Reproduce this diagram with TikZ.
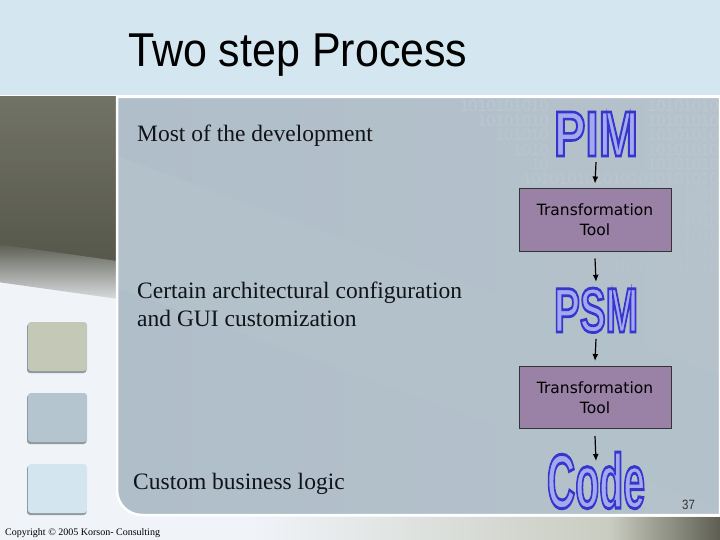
\documentclass[tikz,border=0pt]{standalone}
\usepackage{fontspec}
\setmainfont{Liberation Serif}
\newfontfamily\sansA{Liberation Sans}
\newfontfamily\sansD{DejaVu Sans}
\usetikzlibrary{arrows.meta}
\definecolor{leftbg}{HTML}{F0F4F9}
\definecolor{topband}{HTML}{D4E6EF}
\definecolor{olive1}{HTML}{77796B}
\definecolor{olive2}{HTML}{55564A}
\definecolor{hl}{HTML}{D2E3ED}
\definecolor{panelL}{HTML}{B0BECA}
\definecolor{panelM}{HTML}{B3C1CB}
\definecolor{panelR}{HTML}{B5C2CB}
\definecolor{banddark}{HTML}{909DA6}
\definecolor{stripmid}{HTML}{C9CCC0}
\definecolor{stripdark}{HTML}{5E5F52}
\definecolor{sqA}{HTML}{C4C8B6}
\definecolor{sqB}{HTML}{B4C5D0}
\definecolor{sqC}{HTML}{D3E6EF}
\definecolor{sqshadow}{HTML}{8E999E}
\definecolor{wafill}{HTML}{A4A8EE}
\definecolor{toolfill}{HTML}{9A82A6}
\definecolor{txt}{HTML}{101418}
% outlined word art: fill colour from the node, blue stroke of width #1
\newcommand\wordart[2]{\special{pdf:literal direct 2 Tr #1 w 0.21 0.21 0.80 RG}#2\special{pdf:literal direct 0 Tr}}
\newcommand\binpairs[1]{\foreach \k in {1,...,#1}{10}}
\tikzset{
  serif/.style={anchor=base west, inner sep=0, text=txt, font=\fontsize{23.5}{28}\selectfont},
  tbox/.style={draw=black!80, line width=1pt, fill=toolfill, minimum width=152pt, minimum height=62pt,
    align=center, inner sep=0, font=\sansD\fontsize{15.5}{20}\selectfont, text=black},
  arr/.style={-{Latex[length=7pt,width=6pt]}, line width=1.2pt, black},
  wa/.style={anchor=base, inner sep=0, text=wafill},
  square/.style={rounded corners=3pt},
  bin/.style={anchor=east, inner sep=0, text=white, font=\sansA\fontsize{16}{16}\selectfont}
}
\begin{document}
\begin{tikzpicture}[x=1pt,y=-1pt]
\useasboundingbox (0,0) rectangle (720,540);
% backgrounds
\fill[leftbg] (0,0) rectangle (720,540);
\fill[topband] (0,0) rectangle (720,95);
\fill[white] (0,95) rectangle (720,97);
\shade[left color=leftbg, right color=stripmid] (250,517) rectangle (612,540);
\shade[left color=stripmid, right color=stripdark] (610,517) rectangle (720,540);
% left column dark area
\begin{scope}
  \clip (0,97) rectangle (116,517);
  \begin{scope}[rotate around={-8:(0,245)}]
    \shade[top color=olive1, bottom color=olive2] (-30,60) rectangle (200,245);
    \shade[top color=olive2, bottom color=leftbg] (-30,244.5) rectangle (200,282);
  \end{scope}
  \begin{scope}[rotate around={-21:(0,105)}]
    \fill[hl] (-60,-150) rectangle (300,-14);
    \shade[top color=hl, bottom color=olive1] (-60,-14.5) rectangle (300,16);
  \end{scope}
\end{scope}
% main panel
\shade[left color=panelL, right color=panelR] (117,97) -- (720,97) -- (720,515) -- (142,515)
  .. controls (128,515) and (117,504) .. (117,490) -- cycle;
\begin{scope}
  \clip (117,97) -- (720,97) -- (720,515) -- (142,515)
    .. controls (128,515) and (117,504) .. (117,490) -- cycle;
  \begin{scope}[rotate around={-20:(117,222)}]
    \shade[top color=panelM, middle color=banddark, bottom color=panelM] (40,160) rectangle (900,284);
  \end{scope}
  % faint binary texture (kept clear of the word art and the boxes)
  \foreach \i/\n in {0/4,1/4,2/4,3/4,4/4,5/11,6/2,7/2,8/2,9/2,10/2,11/6,12/4,13/4}{
    \pgfmathsetmacro\op{0.1-0.006*\i}
    \node[bin, opacity=\op] (binr\i) at (719,106+14.5*\i) {\binpairs{\n}};
  }
  \foreach \i/\n in {0/5,1/4,2/3,3/2,4/1}{
    \pgfmathsetmacro\op{0.1-0.006*\i}
    \node[bin, opacity=\op] (binl\i) at (549,106+14.5*\i) {\binpairs{\n}};
  }
\end{scope}
\draw[white, line width=2.5pt] (117,97) -- (720,97) -- (720,515) -- (142,515)
  .. controls (128,515) and (117,504) .. (117,490) -- cycle;
% squares
\foreach \y/\c in {322/sqA, 393/sqB, 464/sqC}{
  \fill[sqshadow, square] (27,\y+1.5) rectangle (86.5,\y+51);
  \fill[\c, square] (28,\y) rectangle (87,\y+49);
}
% title
\node[anchor=base west, inner sep=0, xscale=0.905, font=\sansA\fontsize{47.5}{57}\selectfont, text=black]
  (title) at (128,67) {Two step Process};
% left texts
\node[serif] (most) at (137,142) {Most of the development};
\node[serif] (cert1) at (137,298) {Certain architectural configuration};
\node[serif] (cert2) at (137,326) {and GUI customization};
\node[serif] (custom) at (133,489) {Custom business logic};
% word art
\node[wa, xscale=0.74, font=\sansA\bfseries\fontsize{64}{64}\selectfont] (pim) at (596,156) {\wordart{2.6}{PIM}};
\node[wa, xscale=0.615, font=\sansA\bfseries\fontsize{63}{63}\selectfont] (psm) at (596,332) {\wordart{2.8}{PSM}};
\node[wa, xscale=0.51, font=\sansA\bfseries\fontsize{77}{77}\selectfont] (code) at (596,508) {\wordart{3.0}{Code}};
% tool boxes
\node[tbox] (t1) at (595,220) {Transformation\\Tool};
\node[tbox] (t2) at (595,397.5) {Transformation\\Tool};
% arrows
\draw[arr] ([yshift=-6pt]pim.south) -- ([yshift=5pt]t1.north);
\draw[arr] ([yshift=-7pt]t1.south) -- ([yshift=6pt]psm.north);
\draw[arr] ([yshift=-6pt]psm.south) -- ([yshift=5pt]t2.north);
\draw[arr] ([yshift=-7pt]t2.south) -- ([yshift=-9pt]code.north);
% page number and copyright
\node[anchor=base west, inner sep=0, xscale=0.85, text=black!80, font=\sansA\fontsize{13.5}{16}\selectfont]
  (pg) at (682,509) {37};
\node[anchor=base west, inner sep=0, text=black, font=\fontsize{10}{12}\selectfont]
  (copy) at (5,535) {Copyright \textcopyright{} 2005 Korson- Consulting};
\end{tikzpicture}
\end{document}
